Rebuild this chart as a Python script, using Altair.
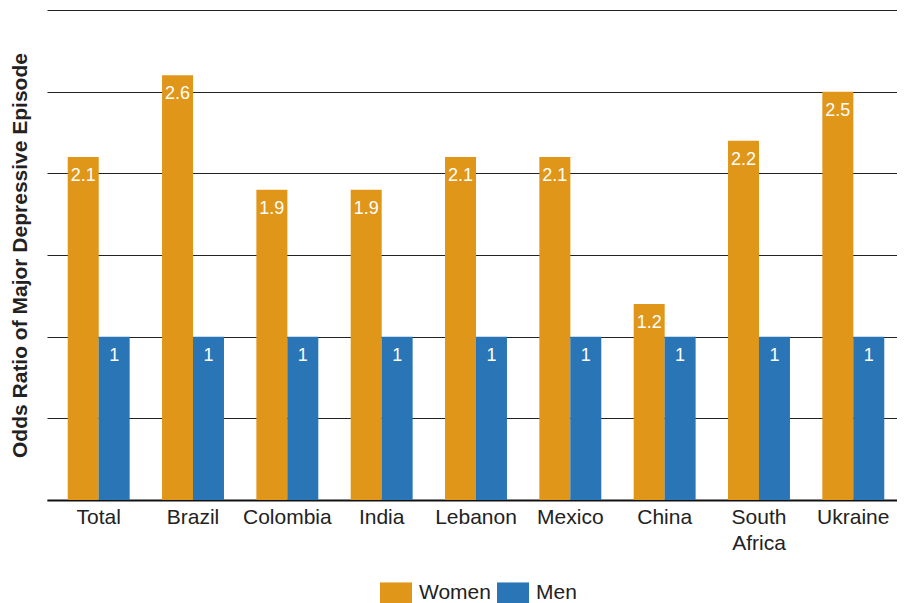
import altair as alt
import pandas as pd

countries = ["Total", "Brazil", "Colombia", "India", "Lebanon", "Mexico", "China", "South Africa", "Ukraine"]
women = [2.1, 2.6, 1.9, 1.9, 2.1, 2.1, 1.2, 2.2, 2.5]
men = [1, 1, 1, 1, 1, 1, 1, 1, 1]
groups = ["Women", "Men"]
colors = ["#E09619", "#2A75B6"]
grid_values = [0, 0.5, 1, 1.5, 2, 2.5, 3]

rows = []
for c, w, m in zip(countries, women, men):
    rows.append({"country": c, "gender": "Women", "value": w, "label": f"{w:g}"})
    rows.append({"country": c, "gender": "Men", "value": m, "label": f"{m:g}"})
df = pd.DataFrame(rows)

FONT = "Liberation Sans"

x = alt.X(
    "country:N",
    sort=countries,
    scale=alt.Scale(paddingInner=0.344, paddingOuter=0.22, range=[0, 858]),
    axis=alt.Axis(
        title=None,
        labelAngle=0,
        ticks=False,
        labelPadding=6,
        labelFontSize=21,
        labelFont=FONT,
        labelColor="#222222",
        labelLineHeight=26,
        labelExpr="datum.value == 'South Africa' ? ['South', 'Africa'] : datum.value",
        domainColor="#111111",
        domainWidth=2,
    ),
)
xo = alt.XOffset("gender:N", sort=groups)
y = alt.Y(
    "value:Q",
    scale=alt.Scale(domain=[0, 3], nice=False),
    axis=alt.Axis(
        values=grid_values,
        labels=False,
        ticks=False,
        domain=False,
        grid=True,
        gridColor="#222222",
        gridWidth=1,
        gridOpacity=1,
        title="Odds Ratio of Major Depressive Episode",
        titleFont=FONT,
        titleFontSize=21,
        titleFontWeight="bold",
        titleColor="#222222",
        titleX=-27,
        titleY=245,
        titleAngle=-90,
        titleAlign="center",
        titleBaseline="middle",
    ),
)

bars = alt.Chart(df).mark_bar(size=31).encode(
    x=x,
    xOffset=xo,
    y=y,
    color=alt.Color(
        "gender:N",
        sort=groups,
        scale=alt.Scale(domain=groups, range=colors),
        legend=alt.Legend(
            title=None,
            orient="none",
            direction="horizontal",
            legendX=333,
            legendY=567,
            symbolType="M-1,-0.69H1V0.69H-1Z",
            symbolSize=1024,
            symbolStrokeWidth=0,
            symbolOpacity=1,
            labelFontSize=21,
            labelFont=FONT,
            labelColor="#222222",
            labelOffset=7,
            columnPadding=6,
            padding=0,
        ),
    ),
)

labels = alt.Chart(df).mark_text(
    color="white",
    fontSize=18,
    font=FONT,
    baseline="middle",
    align="center",
    dy=19,
).encode(
    x=x,
    xOffset=xo,
    y=y,
    text="label:N",
)

chart = (bars + labels).properties(
    width=850,
    height=490,
    autosize=alt.AutoSizeParams(type="none"),
    padding={"left": 39, "top": 2, "right": 0, "bottom": 103},
).configure_view(stroke=None)

chart.save("out.html", embed_options={"renderer": "svg", "actions": False})
